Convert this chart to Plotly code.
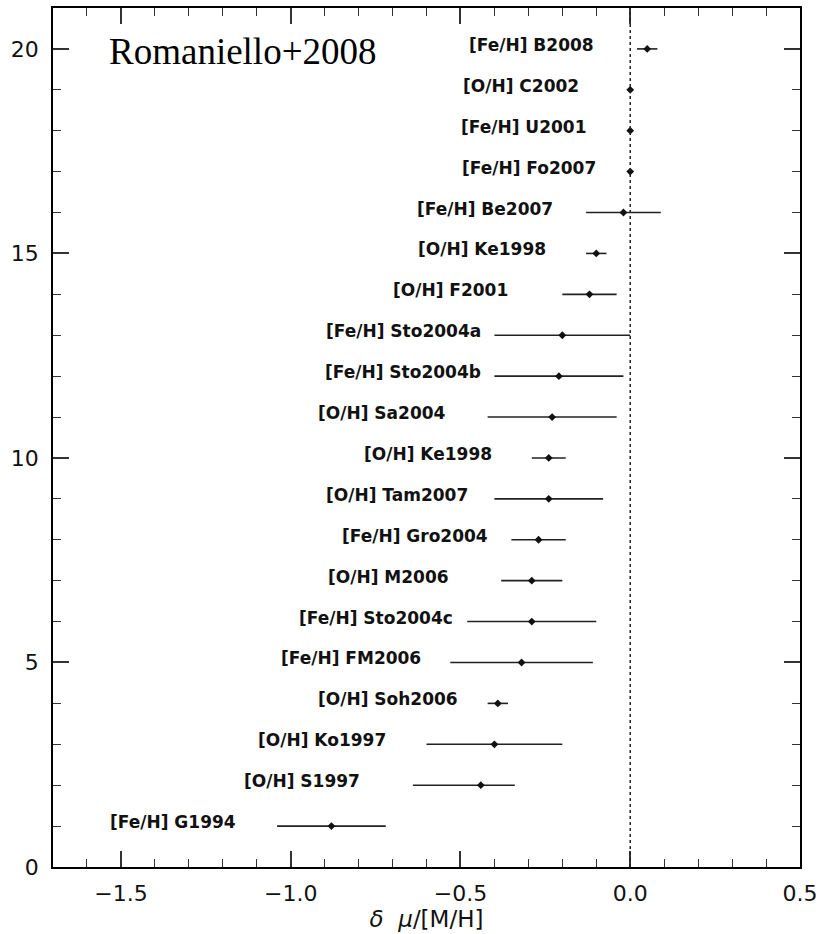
import plotly.graph_objects as go

# Metallicity sensitivity of the distance modulus, one row per study
study_labels = [
    "[Fe/H] B2008", "[O/H] C2002", "[Fe/H] U2001", "[Fe/H] Fo2007",
    "[Fe/H] Be2007", "[O/H] Ke1998", "[O/H] F2001", "[Fe/H] Sto2004a",
    "[Fe/H] Sto2004b", "[O/H] Sa2004", "[O/H] Ke1998", "[O/H] Tam2007",
    "[Fe/H] Gro2004", "[O/H] M2006", "[Fe/H] Sto2004c", "[Fe/H] FM2006",
    "[O/H] Soh2006", "[O/H] Ko1997", "[O/H] S1997", "[Fe/H] G1994",
]
row_index = [20, 19, 18, 17, 16, 15, 14, 13, 12, 11, 10, 9, 8, 7, 6, 5, 4, 3, 2, 1]
delta_mu = [0.05, 0.0, 0.0, 0.0, -0.02, -0.10, -0.12, -0.20, -0.21, -0.23,
            -0.24, -0.24, -0.27, -0.29, -0.29, -0.32, -0.39, -0.40, -0.44, -0.88]
err_plus = [0.03, 0.0, 0.0, 0.0, 0.11, 0.03, 0.08, 0.20, 0.19, 0.19,
            0.05, 0.16, 0.08, 0.09, 0.19, 0.21, 0.03, 0.20, 0.10, 0.16]
err_minus = [0.03, 0.0, 0.0, 0.0, 0.11, 0.03, 0.08, 0.20, 0.19, 0.19,
             0.05, 0.16, 0.08, 0.09, 0.19, 0.21, 0.03, 0.20, 0.20, 0.16]

# Horizontal centre of each study label (data units)
label_center_x = [-0.291, -0.321, -0.313, -0.297, -0.428, -0.438, -0.529, -0.669,
                  -0.669, -0.731, -0.596, -0.687, -0.635, -0.712, -0.750, -0.821,
                  -0.712, -0.909, -0.966, -1.346]

x_range = [-1.7, 0.5]
y_range = [0, 21]

fig = go.Figure()

fig.add_trace(go.Scatter(
    x=delta_mu, y=row_index, mode="markers",
    marker=dict(symbol="diamond", size=6, color="#111"),
    error_x=dict(type="data", array=err_plus, arrayminus=err_minus,
                 symmetric=False, width=0, thickness=1.6, color="#222"),
    showlegend=False, hoverinfo="x+y",
))

# dotted zero line
fig.add_shape(type="line", x0=0, x1=0, y0=y_range[0], y1=y_range[1],
              xref="x", yref="y", line=dict(color="#222", width=1.5, dash="dot"))

for lbl, xc, yv in zip(study_labels, label_center_x, row_index):
    fig.add_annotation(x=xc, y=yv, xref="x", yref="y", text=lbl, showarrow=False,
                       xanchor="center", yanchor="middle", yshift=4,
                       font=dict(family="DejaVu Sans", size=17, color="#111", weight="bold"))

fig.add_annotation(x=-1.14, y=19.93, xref="x", yref="y", text="Romaniello+2008",
                   showarrow=False, xanchor="center", yanchor="middle",
                   font=dict(family="Liberation Serif", size=37, color="#000"))

axis_common = dict(
    showline=True, linecolor="#000", linewidth=1.6, mirror="allticks",
    ticks="inside", ticklen=16, tickwidth=1.6, tickcolor="#333",
    showgrid=False, zeroline=False,
    tickfont=dict(family="DejaVu Sans", size=22, color="#111"),
)

fig.update_xaxes(
    range=x_range, dtick=0.5, tick0=0, tickformat=".1f",
    minor=dict(ticks="inside", ticklen=8, tickwidth=1.4, tickcolor="#333", dtick=0.1, tick0=0),
    title=dict(text="<i>δ</i>  <i>μ</i>/[M/H]", standoff=3,
               font=dict(family="DejaVu Sans", size=23, color="#111")),
    ticklabelstandoff=6,
    **axis_common,
)
fig.update_yaxes(
    range=y_range, dtick=5, tick0=0,
    minor=dict(ticks="inside", ticklen=8, tickwidth=1.4, tickcolor="#333", dtick=1, tick0=0),
    ticklabelstandoff=8,
    **axis_common,
)

fig.update_layout(
    width=824, height=934,
    margin=dict(l=53, r=21, t=6, b=67),
    paper_bgcolor="white", plot_bgcolor="white",
)

fig.write_html("out.html")
